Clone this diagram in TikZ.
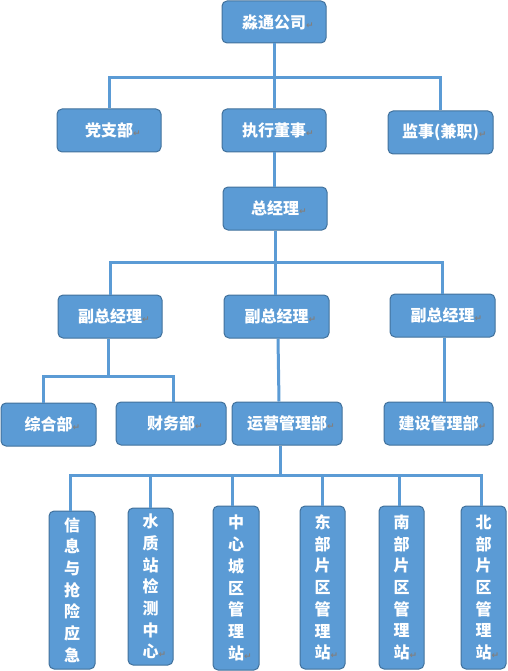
\documentclass[tikz,border=0pt]{standalone}
\usepackage{fontspec}
\usepackage{tikz}
\newfontfamily\cjk{Noto Sans CJK SC}
\newfontfamily\dejavu{DejaVu Sans}
\definecolor{boxfill}{HTML}{5B9BD5}
\definecolor{boxedge}{HTML}{41719C}
\definecolor{markgray}{HTML}{808080}
\newcommand{\parmark}{\rlap{\dejavu\fontsize{9}{9}\selectfont\textcolor{markgray}{↵}}}
\tikzset{
  orgbox/.style={draw=boxedge, fill=boxfill, line width=1pt, rounded corners=5pt,
    text=white, inner sep=0pt, minimum width=104pt, minimum height=43pt,
    font=\cjk\bfseries\fontsize{16}{16}\selectfont},
  stationbox/.style={orgbox, minimum width=46pt, minimum height=160pt, align=center,
    font=\cjk\bfseries\fontsize{16}{21.7}\selectfont},
  conn/.style={draw=boxfill, line width=3pt},
}

\begin{document}
\begin{tikzpicture}[x=1pt, y=-1pt]
\useasboundingbox (0,0) rectangle (507,671);
\node[orgbox, minimum height=42pt] (top) at (274,22) {淼通公司\parmark}; % company
\node[orgbox] (party) at (109,130.5) {党支部\parmark}; % party branch
\node[orgbox] (exec) at (274,130.5) {执行董事\parmark}; % executive director
\node[orgbox, minimum width=105pt] (sup) at (440.5,132.5) {监事(兼职)\parmark}; % supervisor
\node[orgbox] (gm) at (275,208.5) {总经理\parmark}; % general manager
\node[orgbox] (vpl) at (110,316.5) {副总经理\parmark}; % deputy.0
\node[orgbox, minimum width=105pt] (vpm) at (276.5,316.5) {副总经理\parmark}; % deputy.1
\node[orgbox, minimum width=105pt] (vpr) at (442.5,315.5) {副总经理\parmark}; % deputy.2
\node[orgbox, minimum width=95pt] (zh) at (48.5,424.5) {综合部\parmark}; % dept.0
\node[orgbox, minimum width=110pt] (cw) at (171,423.5) {财务部\parmark}; % dept.1
\node[orgbox, minimum width=110pt] (ops) at (287,423.5) {运营管理部\parmark}; % dept.2
\node[orgbox, minimum width=109pt] (build) at (438.5,423.5) {建设管理部\parmark}; % dept.3
\node[stationbox, minimum height=158pt] (s1) at (72,590) {信\\息\\与\\抢\\险\\应\\急}; % station.0
\node[stationbox, minimum width=45pt, minimum height=157pt] (s2) at (150.5,586.5) {水\\质\\站\\检\\测\\中\\心\parmark}; % station.1
\node[stationbox, minimum height=164pt] (s3) at (236,588) {中\\心\\城\\区\\管\\理\\站\parmark}; % station.2
\node[stationbox, minimum width=45pt, minimum height=163pt] (s4) at (322.5,587.5) {东\\部\\片\\区\\管\\理\\站\parmark}; % station.3
\node[stationbox, minimum width=45pt, minimum height=163pt] (s5) at (401.5,587.5) {南\\部\\片\\区\\管\\理\\站\parmark}; % station.4
\node[stationbox, minimum width=45pt, minimum height=163pt] (s6) at (483.5,587.5) {北\\部\\片\\区\\管\\理\\站\parmark}; % station.5
\coordinate (j1) at (275,78); % bus.0
\coordinate (j2) at (275,262); % bus.1
\coordinate (j3) at (108,376); % bus.2
\coordinate (j4) at (280,475); % bus.3
\draw[conn] (top.south) -- (exec.north); % top-exec
\draw[conn] (party.north) |- (j1) -| (sup.north); % bus.0
\draw[conn] (exec.south) -- (exec.south |- gm.north); % exec-gm
\draw[conn] (gm.south) -- (j2); % gm-bus.1
\draw[conn] (vpl.north) |- (j2) -| (vpr.north); % bus.1
\draw[conn] (j2) -- (j2 |- vpm.north); % bus.1-deputy.1
\draw[conn] ([xshift=-2pt]vpl.south) -- (j3); % deputy.0-bus.2
\draw[conn] ([xshift=-5pt]zh.north) |- (j3) -| ([xshift=2pt]cw.north); % bus.2
\draw[conn] ([xshift=1.5pt]vpm.south) -- ([xshift=-8pt]ops.north); % deputy.1-dept.2
\draw[conn] ([xshift=2pt]vpr.south) -- ([xshift=6pt]build.north); % deputy.2-dept.3
\draw[conn] ([xshift=-7pt]ops.south) -- (j4); % dept.2-bus.3
\draw[conn] ([xshift=-2pt]s1.north) |- (j4); % bus.3-station.0
\draw[conn] (s2.north) |- (j4); % bus.3-station.1
\draw[conn] ([xshift=-4pt]s3.north) |- (j4); % bus.3-station.2
\draw[conn] (s4.north) |- (j4); % bus.3-station.3
\draw[conn] ([xshift=-2pt]s5.north) |- (j4); % bus.3-station.4
\draw[conn] ([xshift=-2pt]s6.north) |- (j4); % bus.3-station.5
\end{tikzpicture}
\end{document}
